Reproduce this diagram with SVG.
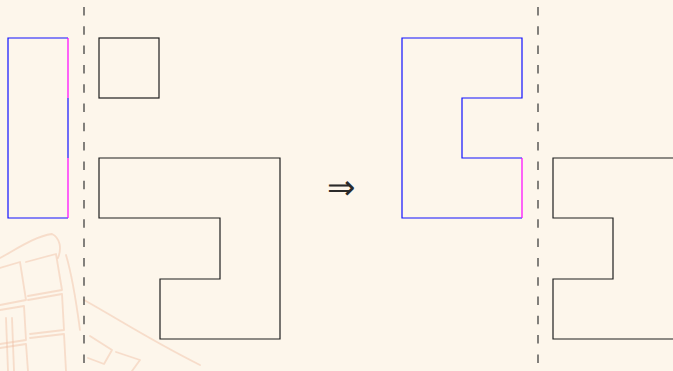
<svg xmlns="http://www.w3.org/2000/svg" width="673" height="371" viewBox="0 0 673 371">
  <style>
    .bg { fill: #fdf6eb; }
    .dash { fill: none; stroke: #333; stroke-width: 1.2; stroke-dasharray: 8.5 10.8; }
    .blk { fill: none; stroke: #1e1e1e; stroke-width: 1.2; stroke-linejoin: miter; }
    .blue { fill: none; stroke: #1010ff; stroke-width: 1.2; }
    .mag { fill: none; stroke: #ff00ff; stroke-width: 1.2; }
    .tex { fill: none; stroke: #f2c4aa; stroke-width: 1.8; opacity: 0.5; stroke-linecap: round; stroke-linejoin: round; }
    .sym { font-family: "DejaVu Sans", "Liberation Sans", sans-serif; font-weight: 200; font-size: 34px; fill: #2a2a2a; }
  </style>
  <rect class="bg" x="0" y="0" width="673" height="371"/>

  <!-- faint street-map texture, lower left -->
  <g id="texture">
    <path class="tex" d="M0,258 C15,250 35,236 52,234 C60,238 62,248 58,258"/>
    <path class="tex" d="M0,268 L20,262 L26,300 L0,305"/>
    <path class="tex" d="M26,262 L56,254 L62,290 L28,296"/>
    <path class="tex" d="M28,300 L62,294 L64,330 L30,334"/>
    <path class="tex" d="M0,310 L24,306 L26,340 L0,344"/>
    <path class="tex" d="M30,338 L64,334 L66,371"/>
    <path class="tex" d="M0,348 L26,344 L28,371"/>
    <path class="tex" d="M66,255 C72,275 76,300 80,330"/>
    <path class="tex" d="M84,300 C120,320 150,340 200,365"/>
    <path class="tex" d="M90,336 L112,350 L104,364 L88,358"/>
    <path class="tex" d="M116,352 L140,360 L132,371"/>
    <path class="tex" d="M6,318 L8,371 M12,318 L14,371"/>
  </g>

  <!-- separators -->
  <g id="connectors">
    <line class="dash" x1="84" y1="7" x2="84" y2="371"/>
    <line class="dash" x1="538" y1="7" x2="538" y2="371"/>
  </g>

  <!-- left: tall bar -->
  <g id="bar">
    <path class="blue" d="M68,38 H8 V218 H68"/>
    <path class="mag" d="M68,38 V98"/>
    <path class="blue" d="M68,98 V158"/>
    <path class="mag" d="M68,158 V218"/>
  </g>

  <!-- left: small square -->
  <g id="square">
    <rect class="blk" x="99" y="38" width="60" height="60"/>
  </g>

  <!-- left: hook shape -->
  <g id="hook">
    <path class="blk" d="M99,158 H280 V339 H160 V279 H220 V218 H99 Z"/>
  </g>

  <!-- implication arrow -->
  <g id="arrow">
    <text class="sym" x="341" y="199" text-anchor="middle">⇒</text>
  </g>

  <!-- middle: C shape -->
  <g id="cshape">
    <path class="blue" d="M522,158 H462 V98 H522 V38 H402 V218 H522"/>
    <path class="mag" d="M522,158 V218"/>
  </g>

  <!-- right: partial shape at edge -->
  <g id="edge-shape">
    <path class="blk" d="M674,158 H553 V218 H613 V279 H553 V339 H674"/>
  </g>
</svg>
